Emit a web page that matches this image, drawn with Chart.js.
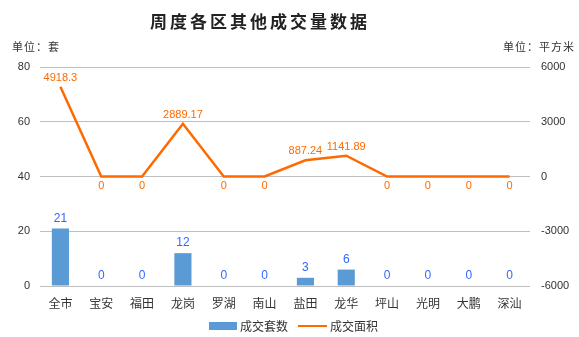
<!DOCTYPE html>
<html><head><meta charset="utf-8">
<script src="https://cdn.jsdelivr.net/npm/chart.js@4/dist/chart.umd.min.js"></script>
<style>html,body{margin:0;padding:0;background:#fff;}#wrap{width:579px;height:337px;position:relative;}</style>
</head><body><div id="wrap"><canvas id="c" width="579" height="337"></canvas></div>
<script>
const categories = ['全市','宝安','福田','龙岗','罗湖','南山','盐田','龙华','坪山','光明','大鹏','深汕'];
const countValues = [21,0,0,12,0,0,3,6,0,0,0,0];
const areaValues = [4918.3,0,0,2889.17,0,0,887.24,1141.89,0,0,0,0];
const areaLabels = ['4918.3','0','0','2889.17','0','0','887.24','1141.89','0','0','0','0'];
const leftTicks = [0,20,40,60,80];
const rightTicks = [-6000,-3000,0,3000,6000];
const titleText = '周度各区其他成交量数据';
const leftUnit = '单位：套';
const rightUnit = '单位：平方米';
const seriesNames = ['成交套数','成交面积'];

const BAR_COLOR = '#5b9bd5';
const LINE_COLOR = '#ff6a00';
const CJK = '"Noto Sans CJK SC", sans-serif';
const NUM = '"Liberation Sans", sans-serif';

const decor = {
  id: 'decor',
  afterDatasetsDraw(chart) {
    const ctx = chart.ctx;
    ctx.save();
    ctx.textAlign = 'center';
    ctx.textBaseline = 'middle';
    const mb = chart.getDatasetMeta(1);
    ctx.font = '12px ' + NUM;
    ctx.fillStyle = '#3366ff';
    mb.data.forEach((el, i) => {
      ctx.fillText(String(countValues[i]), el.x, el.y - 10);
    });
    const ml = chart.getDatasetMeta(0);
    ctx.font = '11px ' + NUM;
    ctx.fillStyle = LINE_COLOR;
    ml.data.forEach((el, i) => {
      const v = areaValues[i];
      ctx.fillText(areaLabels[i], el.x, v === 0 ? el.y + 9 : el.y - 9);
    });
    ctx.restore();
  },
  afterDraw(chart) {
    const ctx = chart.ctx;
    ctx.save();
    ctx.fillStyle = '#222';
    ctx.textBaseline = 'middle';
    ctx.textAlign = 'center';
    ctx.font = 'bold 17px ' + CJK;
    ctx.letterSpacing = '3px';
    ctx.fillText(titleText, 260, 22);
    ctx.letterSpacing = '1px';
    ctx.font = '11px ' + CJK;
    ctx.fillStyle = '#333';
    ctx.textAlign = 'left';
    ctx.fillText(leftUnit, 12, 47);
    ctx.textAlign = 'right';
    ctx.fillText(rightUnit, 575, 47);
    ctx.letterSpacing = '0px';
    ctx.fillStyle = BAR_COLOR;
    ctx.fillRect(209, 322, 28, 8);
    ctx.strokeStyle = LINE_COLOR;
    ctx.lineWidth = 2;
    ctx.beginPath(); ctx.moveTo(298, 326); ctx.lineTo(327, 326); ctx.stroke();
    ctx.fillStyle = '#333';
    ctx.textAlign = 'left';
    ctx.font = '12px ' + CJK;
    ctx.fillText(seriesNames[0], 240, 326);
    ctx.fillText(seriesNames[1], 330, 326);
    ctx.restore();
  }
};

new Chart(document.getElementById('c'), {
  type: 'bar',
  data: {
    labels: categories,
    datasets: [
      { type: 'line', label: seriesNames[1], data: areaValues, yAxisID: 'y1', borderColor: LINE_COLOR, backgroundColor: LINE_COLOR, borderWidth: 2.5, pointRadius: 0, tension: 0, order: 0 },
      { type: 'bar', label: seriesNames[0], data: countValues, yAxisID: 'y', backgroundColor: BAR_COLOR, barPercentage: 0.42, categoryPercentage: 1, order: 1 }
    ]
  },
  options: {
    responsive: false,
    animation: false,
    devicePixelRatio: 1,
    layout: { padding: { top: 67, bottom: 21, left: 0, right: 0 } },
    plugins: { legend: { display: false }, title: { display: false }, tooltip: { enabled: false } },
    scales: {
      x: {
        grid: { display: false, drawTicks: false }, border: { display: false },
        ticks: { font: { family: CJK, size: 12 }, color: '#333', padding: 10, maxRotation: 0, autoSkip: false },
        afterFit(s) { s.height = 30; }
      },
      y: {
        position: 'left', min: 0, max: 80,
        afterBuildTicks(s) { s.ticks = leftTicks.map(v => ({ value: v })); },
        grid: { color: '#bfbfbf', drawTicks: false, lineWidth: 1 }, border: { display: false },
        ticks: { font: { family: NUM, size: 11 }, color: '#333', padding: 10, callback: v => String(v) },
        afterFit(s) { s.width = 40; }
      },
      y1: {
        position: 'right', min: -6000, max: 6000,
        afterBuildTicks(s) { s.ticks = rightTicks.map(v => ({ value: v })); },
        grid: { display: false, drawTicks: false }, border: { display: false },
        ticks: { font: { family: NUM, size: 11 }, color: '#333', padding: 11, callback: v => String(v) },
        afterFit(s) { s.width = 49; }
      }
    }
  },
  plugins: [decor]
});
</script></body></html>
